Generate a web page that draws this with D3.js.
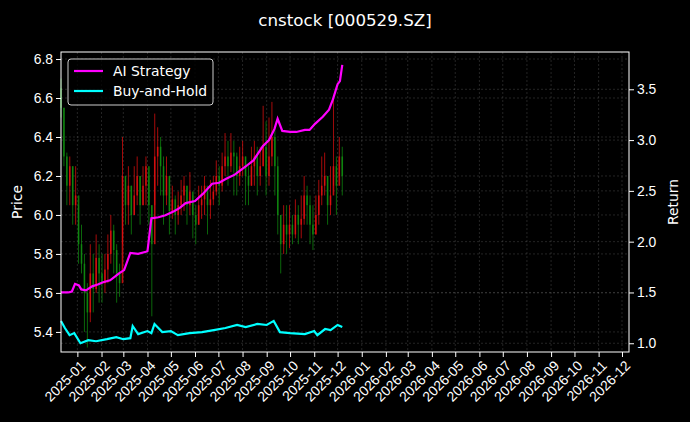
<!DOCTYPE html>
<html><head><meta charset="utf-8">
<script src="https://cdn.jsdelivr.net/npm/d3@7"></script>
<style>body{margin:0;background:#000;} svg{display:block;font-family:"DejaVu Sans",sans-serif;}</style>
</head><body><svg id="c" width="690" height="422"></svg>
<script>
const title = "cnstock [000529.SZ]";
const candleStart = "2024-12-11";
const candleStepDays = 3.76;
const closes = [6.55,6.30,6.15,6.25,6.05,6.10,5.85,5.75,5.60,5.50,5.70,5.62,5.78,5.70,5.65,5.72,5.80,5.92,5.82,5.70,5.65,6.20,6.05,6.15,6.00,6.10,6.20,6.05,6.15,6.25,6.05,5.85,6.30,6.35,6.25,6.10,6.20,6.02,6.08,6.00,6.05,6.10,6.15,6.05,6.12,6.00,5.95,6.05,6.08,6.15,6.05,6.08,6.12,6.20,6.15,6.25,6.30,6.25,6.32,6.30,6.20,6.25,6.30,6.20,6.15,6.25,6.30,6.20,6.25,6.35,6.20,6.30,6.40,6.25,6.00,5.85,5.95,5.90,5.95,5.90,6.00,5.95,5.98,6.10,6.05,5.95,5.90,6.00,6.10,6.15,6.20,6.05,6.10,6.25,6.15,6.30,6.20];
const highs = [6.70,6.55,6.32,6.30,6.25,6.25,6.05,5.95,5.80,5.65,5.85,5.80,5.90,5.85,5.80,5.80,5.90,6.00,5.95,5.85,5.75,6.40,6.20,6.25,6.15,6.25,6.30,6.20,6.25,6.30,6.20,6.05,6.52,6.45,6.40,6.30,6.30,6.20,6.15,6.10,6.12,6.18,6.20,6.15,6.22,6.10,6.05,6.15,6.15,6.20,6.12,6.18,6.20,6.28,6.25,6.32,6.42,6.38,6.42,6.38,6.32,6.35,6.38,6.30,6.25,6.35,6.38,6.35,6.35,6.56,6.48,6.50,6.58,6.45,6.30,6.00,6.05,6.05,6.05,6.00,6.08,6.05,6.10,6.20,6.15,6.10,6.05,6.10,6.18,6.30,6.32,6.20,6.25,6.60,6.30,6.40,6.35];
const lows = [6.50,6.25,6.05,6.05,5.95,5.95,5.75,5.70,5.40,5.32,5.45,5.50,5.60,5.55,5.55,5.60,5.65,5.75,5.70,5.55,5.58,5.85,5.95,5.95,5.90,6.00,6.05,5.95,6.05,6.05,5.95,5.48,6.05,6.15,6.10,5.95,6.05,5.90,5.98,5.90,5.95,6.00,6.02,5.95,6.00,5.88,5.85,5.95,5.98,6.00,5.90,5.98,6.05,6.10,6.05,6.12,6.20,6.15,6.22,6.10,6.10,6.15,6.20,6.05,6.05,6.15,6.15,6.10,6.15,6.25,6.10,6.15,6.25,6.10,5.90,5.70,5.80,5.80,5.83,5.85,5.88,5.85,5.88,5.95,5.95,5.85,5.82,5.90,5.95,6.05,6.10,5.95,6.00,6.15,6.00,6.20,6.10];
const firstOpen = 6.65;
const aiDates = ["2024-12-11","2024-12-20","2024-12-25","2024-12-29","2025-01-03","2025-01-06","2025-01-12","2025-01-20","2025-01-28","2025-02-03","2025-02-12","2025-02-19","2025-02-23","2025-03-02","2025-03-10","2025-03-20","2025-03-30","2025-04-01","2025-04-06","2025-04-15","2025-04-24","2025-05-05","2025-05-12","2025-05-20","2025-06-01","2025-06-11","2025-06-23","2025-07-02","2025-07-11","2025-07-22","2025-08-05","2025-08-15","2025-08-27","2025-09-04","2025-09-11","2025-09-15","2025-09-21","2025-10-01","2025-10-09","2025-10-20","2025-10-26","2025-11-02","2025-11-12","2025-11-20","2025-11-25","2025-12-01","2025-12-04","2025-12-07"];
const aiValues = [1.50,1.50,1.51,1.585,1.57,1.53,1.52,1.56,1.58,1.60,1.62,1.66,1.686,1.72,1.89,1.88,1.90,1.907,2.23,2.24,2.26,2.30,2.33,2.38,2.40,2.47,2.57,2.58,2.62,2.66,2.74,2.80,2.94,3.00,3.11,3.21,3.09,3.08,3.08,3.10,3.10,3.16,3.23,3.30,3.40,3.55,3.58,3.74];
const bhDates = ["2024-12-11","2024-12-16","2024-12-22","2024-12-28","2025-01-05","2025-01-15","2025-01-25","2025-02-08","2025-02-20","2025-03-01","2025-03-10","2025-03-13","2025-03-20","2025-04-01","2025-04-06","2025-04-10","2025-04-20","2025-05-01","2025-05-10","2025-05-25","2025-06-10","2025-06-25","2025-07-10","2025-07-25","2025-08-05","2025-08-20","2025-09-01","2025-09-10","2025-09-18","2025-10-01","2025-10-20","2025-11-01","2025-11-05","2025-11-15","2025-11-22","2025-12-01","2025-12-07"];
const bhValues = [1.22,1.15,1.08,1.10,1.00,1.03,1.02,1.04,1.06,1.04,1.05,1.17,1.09,1.12,1.10,1.19,1.11,1.12,1.08,1.10,1.11,1.13,1.15,1.18,1.16,1.19,1.18,1.22,1.11,1.10,1.09,1.12,1.08,1.14,1.13,1.18,1.16];
const xTickMonths = ["2025-01","2025-02","2025-03","2025-04","2025-05","2025-06","2025-07","2025-08","2025-09","2025-10","2025-11","2025-12","2026-01","2026-02","2026-03","2026-04","2026-05","2026-06","2026-07","2026-08","2026-09","2026-10","2026-11","2026-12"];
const priceTicks = [5.4,5.6,5.8,6.0,6.2,6.4,6.6,6.8];
const returnTicks = [1.0,1.5,2.0,2.5,3.0,3.5];

const pd = d3.timeParse("%Y-%m-%d"), pm = d3.timeParse("%Y-%m");
const L=61,R=629,T=52,B=352;
const svg=d3.select("#c");
svg.append("rect").attr("width",690).attr("height",422).attr("fill","#000");
const x=d3.scaleTime().domain([pd("2024-12-11"),pd("2026-12-10")]).range([L,R]);
const yP=d3.scaleLinear().domain([5.297,6.836]).range([B,T]);
const yR=d3.scaleLinear().domain([0.914,3.867]).range([B,T]);
const g=svg.append("g");
const gridStyle=s=>s.attr("stroke","#888").attr("stroke-opacity",0.45).attr("stroke-width",0.6).attr("stroke-dasharray","2,2");
xTickMonths.forEach(m=>gridStyle(g.append("line").attr("x1",x(pm(m))).attr("x2",x(pm(m))).attr("y1",T).attr("y2",B)));
priceTicks.forEach(v=>gridStyle(g.append("line").attr("x1",L).attr("x2",R).attr("y1",yP(v)).attr("y2",yP(v))));
returnTicks.forEach(v=>gridStyle(g.append("line").attr("x1",L).attr("x2",R).attr("y1",yR(v)).attr("y2",yR(v))));
const s0=pd(candleStart);
const candles=closes.map((c,i)=>({date:new Date(s0.getTime()+i*candleStepDays*864e5),o:i?closes[i-1]:firstOpen,c,h:highs[i],l:lows[i]}));
const cg=g.append("g");
candles.forEach(d=>{
  const col=d.c>=d.o?"#e81010":"#109010";
  const cx=x(d.date);
  cg.append("line").attr("x1",cx).attr("x2",cx).attr("y1",yP(d.h)).attr("y2",yP(d.l)).attr("stroke",col).attr("stroke-width",0.9).attr("opacity",0.8);
  cg.append("rect").attr("x",cx-0.8).attr("width",1.6).attr("y",yP(Math.max(d.o,d.c))).attr("height",Math.max(1,Math.abs(yP(d.o)-yP(d.c)))).attr("fill",col).attr("opacity",0.8);
});
const line=d3.line().x(d=>x(d[0])).y(d=>yR(d[1]));
g.append("path").datum(aiDates.map((d,i)=>[pd(d),aiValues[i]])).attr("d",line).attr("fill","none").attr("stroke","#ff00ff").attr("stroke-width",2.2);
g.append("path").datum(bhDates.map((d,i)=>[pd(d),bhValues[i]])).attr("d",line).attr("fill","none").attr("stroke","#00ffff").attr("stroke-width",2.2);
const fs="13.9px";
const ax=svg.append("g").attr("transform",`translate(0,${B})`).call(d3.axisBottom(x).tickValues(xTickMonths.map(pm)).tickFormat(d3.timeFormat("%Y-%m")).tickSize(5));
ax.selectAll("text").attr("fill","#fff").style("font-size",fs).attr("text-anchor","end").attr("dx","-0.3em").attr("dy","0.6em").attr("transform","rotate(-45)");
const ay=svg.append("g").attr("transform",`translate(${L},0)`).call(d3.axisLeft(yP).tickValues(priceTicks).tickFormat(d3.format(".1f")).tickSize(5));
const ar=svg.append("g").attr("transform",`translate(${R},0)`).call(d3.axisRight(yR).tickValues(returnTicks).tickFormat(d3.format(".1f")).tickSize(5));
[ax,ay,ar].forEach(a=>{a.select(".domain").remove();a.selectAll("line").attr("stroke","#fff");a.selectAll("text").attr("fill","#fff").style("font-size",fs);});
svg.append("rect").attr("x",L).attr("y",T).attr("width",R-L).attr("height",B-T).attr("fill","none").attr("stroke","#fff").attr("stroke-width",1);
svg.append("text").attr("x",345).attr("y",26).attr("text-anchor","middle").attr("fill","#fff").style("font-size","16.7px").text(title);
svg.append("text").attr("transform",`translate(22,${(T+B)/2}) rotate(-90)`).attr("text-anchor","middle").attr("fill","#fff").style("font-size",fs).text("Price");
svg.append("text").attr("transform",`translate(678,${(T+B)/2}) rotate(-90)`).attr("text-anchor","middle").attr("fill","#fff").style("font-size",fs).text("Return");
const lg=svg.append("g");
lg.append("rect").attr("x",68).attr("y",59).attr("width",145).attr("height",46).attr("rx",3).attr("fill","#000").attr("fill-opacity",0.8).attr("stroke","#ccc").attr("stroke-width",1);
[["AI Strategy","#ff00ff",71],["Buy-and-Hold","#00ffff",91]].forEach(([t,c,yy])=>{
  lg.append("line").attr("x1",74).attr("x2",103).attr("y1",yy).attr("y2",yy).attr("stroke",c).attr("stroke-width",2.2);
  lg.append("text").attr("x",113).attr("y",yy+5).attr("fill","#fff").style("font-size",fs).text(t);
});
</script></body></html>
